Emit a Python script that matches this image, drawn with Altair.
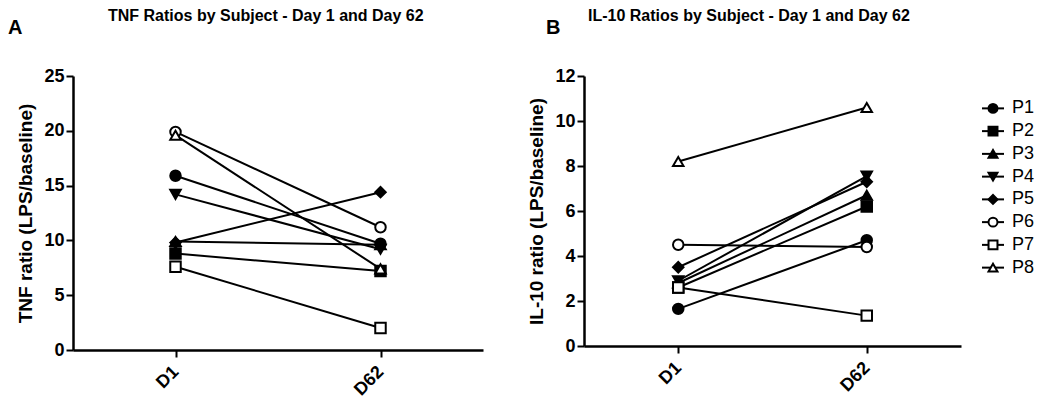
import altair as alt
import pandas as pd

subjects = ["P1", "P2", "P3", "P4", "P5", "P6", "P7", "P8"]
days = ["D1", "D62"]
tnf_d1 = [15.9, 8.8, 9.9, 14.2, 9.8, 19.9, 7.6, 19.6]
tnf_d62 = [9.7, 7.2, 9.6, 9.2, 14.4, 11.2, 2.0, 7.4]
il10_d1 = [1.65, 2.6, 2.8, 2.9, 3.5, 4.5, 2.6, 8.2]
il10_d62 = [4.7, 6.2, 6.7, 7.55, 7.3, 4.4, 1.35, 10.6]
shapes = ["circle", "square", "triangle-up", "triangle-down", "diamond", "circle", "square", "triangle-up"]
fills = ["black", "black", "black", "black", "black", "white", "white", "white"]

FONT = "Liberation Sans, Arial, sans-serif"

rows = []
for i, s in enumerate(subjects):
    rows.append({"subject": s, "day": days[0], "tnf": tnf_d1[i], "il10": il10_d1[i]})
    rows.append({"subject": s, "day": days[1], "tnf": tnf_d62[i], "il10": il10_d62[i]})
df = pd.DataFrame(rows)

shape_enc = alt.Shape("subject:N", scale=alt.Scale(domain=subjects, range=shapes), legend=None)
fill_enc = alt.Fill("subject:N", scale=alt.Scale(domain=subjects, range=fills), legend=None)


def panel(col, ymax, ystep, ytitle, letter, letter_x):
    x = alt.X("day:N", sort=days,
              scale=alt.Scale(domain=days, padding=0.5),
              axis=alt.Axis(title=None, labelAngle=-45, labelAlign="right",
                            labelBaseline="middle", labelPadding=12))
    y = alt.Y(f"{col}:Q", scale=alt.Scale(domain=[0, ymax], nice=False),
              axis=alt.Axis(title=ytitle, values=list(range(0, ymax + 1, ystep)),
                            titlePadding=8))
    base = alt.Chart(df)
    lines = base.mark_line(color="black", strokeWidth=2).encode(
        x=x, y=y, detail="subject:N")
    pts = base.mark_point(filled=True, stroke="black", strokeWidth=2, size=110, opacity=1).encode(
        x=x, y=y, shape=shape_enc, fill=fill_enc)
    lab = alt.Chart(pd.DataFrame({"t": [letter]})).mark_text(
        font=FONT, fontSize=20, fontWeight="bold", align="left", baseline="middle", color="black"
    ).encode(text="t:N", x=alt.value(letter_x), y=alt.value(-48))
    return alt.layer(lines, pts, lab)


def title(text, dx):
    return alt.TitleParams(text, anchor="start", frame="group", dx=dx,
                           font=FONT, fontSize=16, fontWeight="bold", color="black",
                           offset=-6)


LW, LH = 410, 274
RW, RH = 377, 270

left = panel("tnf", 25, 5, "TNF ratio (LPS/baseline)", "A", -65).properties(
    width=LW, height=LH, title=title("TNF Ratios by Subject - Day 1 and Day 62", 35))

right_inner = panel("il10", 12, 2, "IL-10 ratio (LPS/baseline)", "B", -38)

leg_df = pd.DataFrame({"subject": subjects})
ly = alt.Y("subject:N", sort=subjects, axis=None,
           scale=alt.Scale(domain=subjects, range=[21, 203], padding=0))
leg_base = alt.Chart(leg_df)
leg_line = leg_base.mark_rule(color="black", strokeWidth=2).encode(
    y=ly, x=alt.value(RW + 21), x2=alt.value(RW + 43))
leg_pts = leg_base.mark_point(filled=True, stroke="black", strokeWidth=2, size=80, opacity=1).encode(
    y=ly, x=alt.value(RW + 32), shape=shape_enc, fill=fill_enc)
leg_txt = leg_base.mark_text(font=FONT, fontSize=18, align="left", baseline="middle", color="black").encode(
    y=ly, x=alt.value(RW + 51), text="subject:N")
legend = alt.layer(leg_line, leg_pts, leg_txt)

right = alt.layer(right_inner, legend).resolve_scale(y="independent").properties(
    width=RW, height=RH, title=title("IL-10 Ratios by Subject - Day 1 and Day 62", 4))

chart = alt.hconcat(left, right, spacing=44).properties(
    padding={"left": 0, "top": 0, "right": 0, "bottom": 0}
).configure_view(
    stroke=None
).configure_axis(
    domainColor="black", domainWidth=2.5, tickColor="black", tickWidth=2, tickSize=7,
    labelFont=FONT, labelFontSize=18, labelFontWeight="bold", labelColor="black",
    titleFont=FONT, titleFontSize=19, titleFontWeight="bold", titleColor="black",
    grid=False
)

chart.save("out.html", embed_options={"renderer": "svg", "actions": False})
